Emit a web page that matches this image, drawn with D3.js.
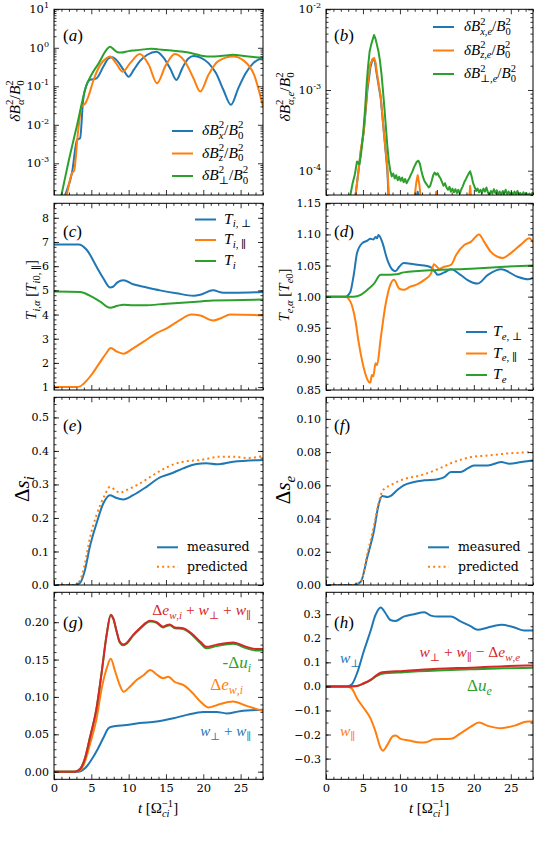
<!DOCTYPE html>
<html><head><meta charset="utf-8">
<script src="https://cdn.jsdelivr.net/npm/d3@7"></script>
<style>body{margin:0;background:#fff}svg{display:block}</style>
</head><body><svg id="c" width="540" height="848"></svg>
<script>
// ---------------- DATA ----------------
const tDomain = [0, 28];
const xMajor = [0, 5, 10, 15, 20, 25];
const xLabels = ["0", "5", "10", "15", "20", "25"];

// (a) ion-scale magnetic fluctuations
const aBx = [[0,2e-5],[1.5,1.5e-4],[2.4,5.5e-4],[3.1,4.1e-3],[3.5,4.5e-3],[3.9,0.044],[4.3,0.10],[4.8,0.146],[5.7,0.161],[6.6,0.32],[7.3,0.53],[7.8,0.57],[8.5,0.45],[9.3,0.27],[10.0,0.178],[10.7,0.27],[11.5,0.45],[12.5,0.66],[13.7,0.79],[14.7,0.55],[15.6,0.28],[16.4,0.146],[17.2,0.30],[18.0,0.53],[18.7,0.61],[19.7,0.55],[20.7,0.40],[21.7,0.22],[22.7,0.08],[23.7,0.033],[24.7,0.09],[25.7,0.22],[26.7,0.40],[28,0.55]];
const aBz = [[0,1e-5],[1.7,1.5e-4],[2.4,5.5e-4],[2.7,6.5e-4],[3.2,6e-3],[3.7,0.030],[4.2,0.036],[4.6,0.054],[5.3,0.146],[6.2,0.36],[7.0,0.53],[7.5,0.59],[8.3,0.40],[9.2,0.24],[10.2,0.40],[11.5,0.69],[12.7,0.36],[13.8,0.12],[15.0,0.36],[16.2,0.69],[17.5,0.45],[18.7,0.16],[19.6,0.073],[20.7,0.20],[22.0,0.45],[24.0,0.59],[25.5,0.45],[26.8,0.20],[28,0.03]];
const aBperp = [[0,2e-5],[1.0,1.5e-4],[1.9,1e-3],[3.1,1e-2],[4.3,0.1],[5.0,0.197],[6.0,0.40],[7.0,0.87],[7.5,1.07],[8.0,0.91],[8.5,0.77],[9.0,0.75],[10,0.82],[11,0.86],[12,0.91],[13,0.95],[14,0.91],[15,0.88],[16,0.84],[17,0.80],[18,0.75],[19,0.68],[20,0.61],[21,0.59],[22,0.60],[23,0.63],[24,0.66],[25,0.63],[26,0.59],[27,0.57],[28,0.56]];

// (b) electron-scale magnetic fluctuations
const bBx = [[0,1e-5],[3.8,3e-5],[4.0,5e-5],[4.4,1.0e-4],[4.7,1.7e-4],[5.1,3.0e-4],[5.4,6e-4],[5.6,1.0e-3],[6.0,1.9e-3],[6.3,2.4e-3],[6.6,2.3e-3],[6.9,1.5e-3],[7.4,8e-4],[7.8,3.2e-4],[8.3,1.0e-4],[8.5,4e-5],[8.8,2e-5],[11.8,2e-5],[12.2,4.5e-5],[12.4,5.5e-5],[12.6,4.5e-5],[13.0,2e-5],[28,2e-5]];
const bBz = [[0,1e-5],[3.8,3e-5],[4.0,5e-5],[4.4,1.0e-4],[4.7,1.8e-4],[5.1,3.0e-4],[5.6,1.1e-3],[6.0,2.1e-3],[6.3,2.4e-3],[6.5,2.5e-3],[6.7,2.2e-3],[6.9,1.6e-3],[7.4,8.3e-4],[7.8,3.2e-4],[8.3,1.1e-4],[8.5,5e-5],[8.7,3e-5],[11.6,2e-5],[11.9,4e-5],[12.2,7e-5],[12.4,8.8e-5],[12.6,7e-5],[12.9,4e-5],[13.2,2e-5],[14.6,3e-5],[14.9,5.5e-5],[15.2,3e-5],[19.2,3e-5],[19.5,6.5e-5],[19.8,3e-5],[28,2e-5]];
const bBperp = [[0,2e-5],[3.0,3e-5],[3.3,5e-5],[3.6,7e-5],[3.9,9e-5],[4.2,1.3e-4],[4.5,1.2e-4],[4.7,1.5e-4],[4.9,2.2e-4],[5.1,3.5e-4],[5.3,6e-4],[5.5,1.2e-3],[5.7,2.0e-3],[5.9,3.0e-3],[6.1,3.6e-3],[6.3,4.2e-3],[6.5,4.8e-3],[6.7,4.3e-3],[6.9,3.6e-3],[7.1,3.0e-3],[7.3,2.3e-3],[7.5,1.6e-3],[7.7,1.0e-3],[7.9,6e-4],[8.1,3.5e-4],[8.3,2.0e-4],[8.5,1.3e-4],[8.7,1.0e-4],[8.9,8.5e-5],[9.1,9.2e-5],[9.3,8.0e-5],[9.5,8.8e-5],[9.7,7.6e-5],[9.9,8.4e-5],[10.1,7.5e-5],[10.3,8.2e-5],[10.5,7.2e-5],[10.7,7.9e-5],[10.9,7.0e-5],[11.1,7.6e-5],[11.3,8.2e-5],[11.5,9.0e-5],[11.7,9.8e-5],[11.9,1.1e-4],[12.1,1.2e-4],[12.3,1.3e-4],[12.5,1.33e-4],[12.7,1.22e-4],[12.9,1.0e-4],[13.1,8.5e-5],[13.3,7.5e-5],[13.5,7.0e-5],[13.7,6.6e-5],[13.9,6.2e-5],[14.1,6.5e-5],[14.3,7.5e-5],[14.5,8.8e-5],[14.7,9.5e-5],[14.9,8.9e-5],[15.1,9.3e-5],[15.3,8.5e-5],[15.5,8.0e-5],[15.7,7.2e-5],[15.9,6.5e-5],[16.1,7.0e-5],[16.3,6.2e-5],[16.5,5.8e-5],[16.7,6.3e-5],[16.9,5.5e-5],[17.1,6.0e-5],[17.3,5.4e-5],[17.5,5.9e-5],[17.7,5.3e-5],[17.9,5.8e-5],[18.1,5.2e-5],[18.3,5.9e-5],[18.5,6.4e-5],[18.7,7.2e-5],[18.9,7.8e-5],[19.1,8.5e-5],[19.3,9.2e-5],[19.5,9.8e-5],[19.7,8.5e-5],[19.9,7.0e-5],[20.1,6.3e-5],[20.3,5.6e-5],[20.5,6.0e-5],[20.7,5.4e-5],[20.9,5.8e-5],[21.1,5.3e-5],[21.3,6.0e-5],[21.5,5.5e-5],[21.7,6.2e-5],[21.9,5.4e-5],[22.1,5.0e-5],[22.3,5.6e-5],[22.5,5.2e-5],[22.7,5.9e-5],[22.9,5.3e-5],[23.1,5.7e-5],[23.3,5.1e-5],[23.5,5.5e-5],[23.7,5.0e-5],[23.9,5.6e-5],[24.1,5.2e-5],[24.3,5.8e-5],[24.5,5.1e-5],[24.7,5.5e-5],[24.9,5.0e-5],[25.1,5.4e-5],[25.3,5.0e-5],[25.5,5.5e-5],[25.7,5.1e-5],[25.9,5.6e-5],[26.1,5.0e-5],[26.3,5.3e-5],[26.5,4.9e-5],[26.7,5.4e-5],[26.9,5.0e-5],[27.1,5.3e-5],[27.3,4.9e-5],[27.5,5.2e-5],[27.7,5.0e-5],[27.9,5.3e-5],[28.1,5.0e-5]];

// (c) ion temperatures
const cPerp = [[0,6.9],[3.3,6.9],[4.4,6.67],[5.7,5.98],[6.6,5.5],[7.5,5.12],[7.9,5.15],[8.5,5.33],[9.3,5.42],[10.6,5.25],[12,5.15],[14.2,5.0],[16.4,4.88],[18.7,4.78],[19.6,4.82],[21.3,5.0],[22.7,4.9],[24,4.9],[28,4.93]];
const cPar = [[0,1.0],[3.0,1.0],[3.5,1.03],[4.0,1.15],[5.0,1.5],[6.0,1.95],[7.0,2.4],[7.6,2.62],[8.4,2.47],[9.3,2.38],[10.6,2.6],[12,2.88],[13.75,3.23],[15.1,3.43],[16.9,3.78],[18.4,4.0],[19.6,3.96],[21.3,3.75],[22.5,3.87],[23.6,4.0],[28,3.97]];
const cT = [[0,4.95],[3.5,4.93],[4.8,4.78],[6.2,4.53],[7.5,4.28],[8.5,4.36],[9.3,4.41],[10.6,4.38],[12,4.38],[15.1,4.45],[19.6,4.54],[21.3,4.58],[28,4.62]];

// (d) electron temperatures
const dPerp = [[0,1.0],[2.6,1.0],[3.3,1.008],[3.75,1.035],[4.2,1.07],[4.9,1.086],[5.6,1.09],[6.0,1.093],[6.4,1.092],[6.7,1.096],[6.9,1.094],[7.1,1.099],[7.6,1.088],[8.3,1.059],[9.0,1.043],[9.4,1.041],[9.9,1.048],[10.5,1.054],[11.9,1.052],[13.3,1.05],[14.2,1.047],[14.8,1.039],[15.1,1.035],[16.0,1.039],[16.9,1.044],[18.2,1.035],[19.1,1.027],[20.5,1.021],[21.9,1.035],[23.7,1.044],[25.9,1.032],[27.3,1.028],[28,1.03]];
const dPar = [[0,1.0],[2.6,1.0],[3.3,0.992],[4.0,0.96],[4.4,0.928],[4.9,0.896],[5.3,0.877],[5.8,0.863],[6.0,0.862],[6.2,0.874],[6.4,0.872],[6.7,0.893],[6.9,0.89],[7.4,0.933],[8.05,0.987],[8.7,1.019],[9.2,1.027],[9.9,1.013],[10.5,1.011],[11.4,1.016],[12.4,1.02],[13.3,1.027],[14.2,1.037],[14.6,1.052],[15.3,1.045],[16.0,1.048],[16.9,1.051],[17.6,1.067],[18.7,1.083],[19.6,1.088],[20.7,1.1],[21.4,1.088],[22.3,1.072],[23.9,1.062],[25,1.07],[26.4,1.084],[27.5,1.094],[28,1.088]];
const dT = [[0,1.0],[3.75,1.0],[4.7,1.003],[5.6,1.011],[6.5,1.021],[7.4,1.035],[7.8,1.035],[9.6,1.036],[10.5,1.039],[15.1,1.043],[19.6,1.045],[24.1,1.048],[28,1.05]];

// (e) ion entropy
const eMeas = [[0,0],[2.8,0],[3.5,0.007],[4.15,0.045],[4.8,0.114],[5.7,0.184],[6.6,0.243],[7.5,0.268],[8.2,0.261],[9.3,0.255],[10.6,0.268],[12.4,0.293],[14.2,0.321],[15.5,0.331],[17.3,0.348],[19.1,0.361],[20.4,0.363],[21.8,0.36],[24,0.368],[28,0.373]];
const ePred = [[0,0],[2.8,0],[3.5,0.015],[4.15,0.065],[4.8,0.139],[5.7,0.209],[6.8,0.268],[7.5,0.293],[8.2,0.283],[8.8,0.275],[9.7,0.283],[11.5,0.303],[13.3,0.328],[15.1,0.351],[17.3,0.368],[19.6,0.373],[22.3,0.383],[24,0.383],[25.8,0.379],[28,0.385]];

// (f) electron entropy
const fMeas = [[0,0],[3.75,0],[4.7,0.002],[5.6,0.017],[6.5,0.033],[7.1,0.048],[7.6,0.0536],[8.3,0.053],[8.7,0.0535],[9.6,0.057],[10.5,0.06],[11.9,0.062],[13.3,0.063],[15.1,0.0637],[16,0.065],[16.9,0.068],[18.2,0.068],[19.1,0.07],[20,0.072],[21.9,0.072],[23.7,0.074],[24.8,0.073],[26.4,0.074],[28,0.075]];
const fPred = [[0,0],[3.75,0],[4.7,0.002],[5.6,0.019],[6.5,0.036],[7.1,0.049],[7.7,0.057],[8.7,0.06],[10.5,0.0637],[12.8,0.066],[15.1,0.0697],[17.3,0.074],[19.6,0.077],[22,0.078],[24.1,0.079],[28,0.08]];

// (g) ion energy budget
const gRed = [[0,0],[2.8,0],[3.5,0.0036],[4.15,0.018],[4.8,0.045],[5.7,0.085],[6.4,0.134],[7.05,0.183],[7.6,0.21],[7.95,0.205],[8.4,0.1875],[8.8,0.174],[9.3,0.17],[9.7,0.172],[10.6,0.183],[11.5,0.192],[12.9,0.202],[13.75,0.2],[14.6,0.194],[15.1,0.196],[15.5,0.197],[16.2,0.193],[17.3,0.192],[18.4,0.185],[19.6,0.174],[20.4,0.167],[21.8,0.17],[24,0.173],[25.8,0.167],[27.1,0.164],[28,0.164]];
const gGreen = [[0,0],[2.8,0],[3.5,0.0036],[4.15,0.018],[4.8,0.045],[5.7,0.085],[6.4,0.134],[7.05,0.183],[7.6,0.209],[7.95,0.204],[8.4,0.187],[8.8,0.173],[9.3,0.169],[9.7,0.171],[10.6,0.182],[11.5,0.191],[12.9,0.201],[13.75,0.199],[14.6,0.193],[15.1,0.195],[15.5,0.196],[16.2,0.192],[17.3,0.191],[18.4,0.184],[19.6,0.172],[20.4,0.165],[21.8,0.168],[24,0.171],[25.8,0.165],[27.1,0.162],[28,0.162]];
const gOrange = [[0,0],[2.8,0],[3.5,0.002],[4.15,0.0134],[4.8,0.036],[5.7,0.071],[6.4,0.112],[7.05,0.138],[7.6,0.151],[8.2,0.134],[8.8,0.116],[9.3,0.107],[10.2,0.114],[11.1,0.123],[12,0.129],[12.9,0.136],[13.75,0.13],[14.6,0.125],[15.3,0.127],[16.2,0.12],[17.3,0.116],[18.4,0.107],[19.6,0.094],[20.7,0.086],[21.8,0.089],[24,0.094],[25.8,0.088],[28,0.081]];
const gBlue = [[0,0],[3.25,0],[4.15,0.0045],[5.0,0.0156],[5.9,0.031],[6.6,0.045],[7.3,0.058],[7.7,0.06],[9.7,0.0625],[11.5,0.065],[13.75,0.067],[16,0.0714],[17.8,0.076],[20,0.08],[21.8,0.08],[23.1,0.078],[24.9,0.081],[28,0.083]];

// (h) electron energy budget
const hPerp = [[0,0],[2.85,0],[3.5,0.009],[4.2,0.055],[5.1,0.145],[6.0,0.228],[6.7,0.297],[7.4,0.328],[8.05,0.304],[8.7,0.276],[9.4,0.272],[10.5,0.29],[11.9,0.3],[13.3,0.308],[14.2,0.294],[15.1,0.29],[16.9,0.29],[18.2,0.27],[19.6,0.249],[20.5,0.235],[21.9,0.245],[23.7,0.256],[25.5,0.245],[26.8,0.232],[28,0.232]];
const hPar = [[0,0],[2.85,0],[3.5,-0.01],[4.2,-0.05],[5.1,-0.09],[6.0,-0.132],[6.7,-0.188],[7.4,-0.257],[7.7,-0.267],[8.3,-0.243],[9.0,-0.208],[9.4,-0.204],[10.1,-0.218],[11.4,-0.226],[12.8,-0.233],[13.5,-0.232],[14.6,-0.22],[16.9,-0.218],[18.2,-0.195],[19.6,-0.167],[20.7,-0.15],[21.9,-0.164],[23.7,-0.174],[25.5,-0.163],[27.3,-0.146],[28,-0.146]];
const hRed = [[0,0],[3.3,0],[4.2,0.002],[5.1,0.013],[6.0,0.027],[6.9,0.048],[7.6,0.059],[10.5,0.064],[15.1,0.073],[19.6,0.078],[24.1,0.084],[28,0.087]];
const hGreen = [[0,0],[3.3,0],[4.2,0.002],[5.1,0.012],[6.0,0.025],[6.9,0.044],[7.6,0.053],[10.5,0.059],[15.1,0.066],[19.6,0.071],[24.1,0.075],[28,0.077]];

// y ticks / labels
const aTicks = [1e-3, 1e-2, 1e-1, 1, 10], aTickLabels = ["10^{-3}","10^{-2}","10^{-1}","10^{0}","10^{1}"];
const bTicks = [1e-4, 1e-3, 1e-2], bTickLabels = ["10^{-4}","10^{-3}","10^{-2}"];
const cTicks = [1,2,3,4,5,6,7,8], cTickLabels = ["1","2","3","4","5","6","7","8"];
const dTicks = [0.85,0.90,0.95,1.00,1.05,1.10,1.15], dTickLabels = ["0.85","0.90","0.95","1.00","1.05","1.10","1.15"];
const eTicks = [0,0.1,0.2,0.3,0.4,0.5], eTickLabels = ["0.0","0.1","0.2","0.3","0.4","0.5"];
const fTicks = [0,0.02,0.04,0.06,0.08,0.10], fTickLabels = ["0.00","0.02","0.04","0.06","0.08","0.10"];
const gTicks = [0,0.05,0.10,0.15,0.20], gTickLabels = ["0.00","0.05","0.10","0.15","0.20"];
const hTicks = [-0.3,-0.2,-0.1,0,0.1,0.2,0.3], hTickLabels = ["\u22120.3","\u22120.2","\u22120.1","0.0","0.1","0.2","0.3"];

// ---------------- DRAWING ----------------
const COL = {blue:"#1f77b4", orange:"#ff7f0e", green:"#2ca02c", red:"#d62728"};
const svg = d3.select("#c");
const cols = [[54, 263], [326, 533]];
const rows = [[9.3, 195], [203.3, 390], [397.3, 585], [592.3, 779.3]];
const TICKFONT = "'DejaVu Serif', serif";
const MATHFONT = "'Liberation Serif', 'DejaVu Serif', serif";

function parseMath(s) {
  const toks = []; let i = 0;
  while (i < s.length) {
    const c = s[i];
    if (c === '_' || c === '^') {
      let txt; i++;
      if (s[i] === '{') { const j = s.indexOf('}', i); txt = s.slice(i + 1, j); i = j + 1; }
      else { txt = s[i]; i++; }
      const lvl = c === '_' ? -1 : 1;
      const prev = toks[toks.length - 1];
      toks.push({text: txt, level: lvl, stack: !!(prev && prev.level === -lvl)});
    } else {
      const prev = toks[toks.length - 1];
      if (prev && prev.level === 0) prev.text += c; else toks.push({text: c, level: 0});
      i++;
    }
  }
  return toks;
}

function mathText(parent, x, y, s, o = {}) {
  const fs = o.size || 14;
  const t = parent.append("text").attr("x", x).attr("y", y)
    .attr("font-size", fs).attr("fill", o.color || "#000")
    .attr("text-anchor", o.anchor || "start")
    .attr("font-family", o.family || MATHFONT);
  if (o.rotate) t.attr("transform", `rotate(-90 ${x} ${y})`);
  let shift = 0, prevNodes = [], pending = 0;
  parseMath(s).forEach(tok => {
    const sz = tok.level ? fs * 0.7 : fs;
    const target = tok.level === -1 ? fs * 0.25 : tok.level === 1 ? -fs * 0.42 : 0;
    const runs = [];
    for (const ch of tok.text) {
      const it = !o.upright && /[A-Za-z\u03b1\u03b4]/.test(ch);
      const last = runs[runs.length - 1];
      if (last && last.it === it) last.s += ch; else runs.push({s: ch, it});
    }
    let back = 0;
    if (tok.stack) back = prevNodes.reduce((a, n) => a + n.getComputedTextLength(), 0);
    const nodes = [];
    runs.forEach((r, k) => {
      const ts = t.append("tspan").attr("font-size", sz).attr("font-style", r.it ? "italic" : "normal").text(r.s);
      if (k === 0) {
        const dy = target - shift;
        if (dy) ts.attr("dy", dy);
        shift = target;
        const dx = pending - back;
        if (dx) ts.attr("dx", dx);
        pending = 0;
      }
      nodes.push(ts.node());
    });
    if (tok.stack) {
      const w = nodes.reduce((a, n) => a + n.getComputedTextLength(), 0);
      if (back > w) pending = back - w;
    }
    prevNodes = nodes;
  });
  return t;
}

function panel(col, row, yType, yDom) {
  const [x0, x1] = cols[col], [y0, y1] = rows[row];
  const x = d3.scaleLinear().domain(tDomain).range([x0, x1]);
  const y = (yType === "log" ? d3.scaleLog() : d3.scaleLinear()).domain(yDom).range([y1, y0]);
  const id = `clip${col}${row}`;
  svg.append("clipPath").attr("id", id).append("rect")
    .attr("x", x0).attr("y", y0).attr("width", x1 - x0).attr("height", y1 - y0);
  const g = svg.append("g").attr("clip-path", `url(#${id})`);
  return {x, y, g, x0, x1, y0, y1, col, row, yType};
}

function styleAxis(sel) {
  sel.select(".domain").remove();
  sel.selectAll("line").attr("stroke", "#000").attr("stroke-width", 0.8);
  sel.attr("font-family", TICKFONT).attr("font-size", 11);
  sel.selectAll("text").attr("fill", "#000");
}

function axes(p, yTicks, yLabels, yMinor, showX) {
  const {x, y, x0, x1, y0, y1} = p;
  const ax = svg.append("g");
  const xMinor = d3.range(1, 29).filter(v => v % 5 !== 0);
  ax.append("g").attr("transform", `translate(0,${y1})`)
    .call(d3.axisBottom(x).tickValues(xMajor).tickSize(-5).tickPadding(5)
      .tickFormat(showX ? (d, i) => xLabels[i] : ""))
    .call(styleAxis).call(g => g.selectAll("text").attr("font-size", 11.5));
  ax.append("g").attr("transform", `translate(0,${y1})`)
    .call(d3.axisBottom(x).tickValues(xMinor).tickSize(-2.5).tickFormat("")).call(styleAxis);
  ax.append("g").attr("transform", `translate(0,${y0})`)
    .call(d3.axisTop(x).tickValues(xMajor).tickSize(-5).tickFormat("")).call(styleAxis);
  ax.append("g").attr("transform", `translate(0,${y0})`)
    .call(d3.axisTop(x).tickValues(xMinor).tickSize(-2.5).tickFormat("")).call(styleAxis);
  const isLog = p.yType === "log";
  ax.append("g").attr("transform", `translate(${x0},0)`)
    .call(d3.axisLeft(y).tickValues(yTicks).tickSize(-5).tickPadding(5)
      .tickFormat(isLog ? "" : (d, i) => yLabels[i]))
    .call(styleAxis);
  ax.append("g").attr("transform", `translate(${x0},0)`)
    .call(d3.axisLeft(y).tickValues(yMinor).tickSize(-2.5).tickFormat("")).call(styleAxis);
  ax.append("g").attr("transform", `translate(${x1},0)`)
    .call(d3.axisRight(y).tickValues(yTicks).tickSize(-5).tickFormat("")).call(styleAxis);
  ax.append("g").attr("transform", `translate(${x1},0)`)
    .call(d3.axisRight(y).tickValues(yMinor).tickSize(-2.5).tickFormat("")).call(styleAxis);
  if (isLog) {
    yTicks.forEach((v, i) => {
      mathText(ax, x0 - 5, y(v) + 4, yLabels[i], {size: 11.5, anchor: "end", family: TICKFONT, upright: true});
    });
  }
  ax.append("rect").attr("x", x0).attr("y", y0).attr("width", x1 - x0).attr("height", y1 - y0)
    .attr("fill", "none").attr("stroke", "#000").attr("stroke-width", 1);
}

function series(p, data, color, opts = {}) {
  const line = d3.line().x(d => p.x(d[0])).y(d => p.y(d[1]))
    .curve(opts.linear ? d3.curveLinear : d3.curveMonotoneX);
  p.g.append("path").datum(data).attr("d", line).attr("fill", "none")
    .attr("stroke", color).attr("stroke-width", opts.width || 2)
    .attr("stroke-linejoin", "round")
    .attr("stroke-dasharray", opts.dash || null)
    .attr("stroke-linecap", opts.dash ? "butt" : "round");
}

function legend(lx, tx, ys, items, size) {
  const lg = svg.append("g");
  items.forEach((it, i) => {
    lg.append("line").attr("x1", lx).attr("x2", lx + 21).attr("y1", ys[i]).attr("y2", ys[i])
      .attr("stroke", it.color).attr("stroke-width", 2).attr("stroke-dasharray", it.dash || null);
    if (it.plain) lg.append("text").attr("x", tx).attr("y", ys[i] + 4).attr("font-family", TICKFONT)
      .attr("font-size", size).text(it.label);
    else mathText(lg, tx, ys[i] + 4, it.label, {size});
  });
}

function minorLin(lo, hi, step) {
  const out = [];
  for (let v = Math.ceil(lo / step - 1e-9) * step; v <= hi + 1e-9; v += step) out.push(+v.toFixed(6));
  return out;
}
function minorLog(lo, hi) {
  const out = [];
  for (let e = -6; e <= 2; e++) for (let k = 2; k <= 9; k++) { const v = k * Math.pow(10, e); if (v >= lo && v <= hi) out.push(v); }
  return out;
}

// ---- panel a ----
const pa = panel(0, 0, "log", [1.5e-4, 10]);
series(pa, aBx, COL.blue); series(pa, aBz, COL.orange); series(pa, aBperp, COL.green);
axes(pa, aTicks, aTickLabels, minorLog(1.5e-4, 10), false);
legend(172, 202, [131, 153.5, 176], [
  {color: COL.blue, label: "\u03b4B_{x}^{2}/B_{0}^{2}"},
  {color: COL.orange, label: "\u03b4B_{z}^{2}/B_{0}^{2}"},
  {color: COL.green, label: "\u03b4B_{\u22a5}^{2}/B_{0}^{2}"}], 15.5);

// ---- panel b ----
const pb = panel(1, 0, "log", [5e-5, 1e-2]);
series(pb, bBx, COL.blue, {linear: true}); series(pb, bBz, COL.orange, {linear: true}); series(pb, bBperp, COL.green, {linear: true});
axes(pb, bTicks, bTickLabels, minorLog(5e-5, 1e-2), false);
legend(433, 464, [27, 50.5, 74], [
  {color: COL.blue, label: "\u03b4B_{x,e}^{2}/B_{0}^{2}"},
  {color: COL.orange, label: "\u03b4B_{z,e}^{2}/B_{0}^{2}"},
  {color: COL.green, label: "\u03b4B_{\u22a5,e}^{2}/B_{0}^{2}"}], 15);

// ---- panel c ----
const pc = panel(0, 1, "lin", [0.88, 8.6]);
series(pc, cPerp, COL.blue); series(pc, cPar, COL.orange); series(pc, cT, COL.green);
axes(pc, cTicks, cTickLabels, minorLin(0.88, 8.6, 0.2), false);
legend(195, 224, [219.5, 240, 261], [
  {color: COL.blue, label: "T_{i, \u22a5}"},
  {color: COL.orange, label: "T_{i, \u2225}"},
  {color: COL.green, label: "T_{i}"}], 15.5);

// ---- panel d ----
const pd = panel(1, 1, "lin", [0.85, 1.15]);
series(pd, dPerp, COL.blue); series(pd, dPar, COL.orange); series(pd, dT, COL.green);
axes(pd, dTicks, dTickLabels, minorLin(0.85, 1.15, 0.01), false);
legend(466, 493, [332, 353.5, 375], [
  {color: COL.blue, label: "T_{e, \u22a5}"},
  {color: COL.orange, label: "T_{e, \u2225}"},
  {color: COL.green, label: "T_{e}"}], 15.5);

// ---- panel e ----
const pe = panel(0, 2, "lin", [0, 0.56]);
series(pe, eMeas, COL.blue); series(pe, ePred, COL.orange, {dash: "2,3.2"});
axes(pe, eTicks, eTickLabels, minorLin(0, 0.56, 0.02), false);
legend(157, 187, [547.3, 566.7], [
  {color: COL.blue, label: "measured", plain: true},
  {color: COL.orange, label: "predicted", plain: true, dash: "2,3.2"}], 12.5);

// ---- panel f ----
const pf = panel(1, 2, "lin", [0, 0.113]);
series(pf, fMeas, COL.blue); series(pf, fPred, COL.orange, {dash: "2,3.2"});
axes(pf, fTicks, fTickLabels, minorLin(0, 0.113, 0.005), false);
legend(428, 458, [547.3, 566.7], [
  {color: COL.blue, label: "measured", plain: true},
  {color: COL.orange, label: "predicted", plain: true, dash: "2,3.2"}], 12.5);

// ---- panel g ----
const pg = panel(0, 3, "lin", [-0.0102, 0.240]);
series(pg, gBlue, COL.blue); series(pg, gOrange, COL.orange); series(pg, gGreen, COL.green); series(pg, gRed, COL.red);
axes(pg, gTicks, gTickLabels, minorLin(-0.0102, 0.24, 0.01), true);

// ---- panel h ----
const ph = panel(1, 3, "lin", [-0.386, 0.391]);
series(ph, hPerp, COL.blue); series(ph, hPar, COL.orange); series(ph, hGreen, COL.green); series(ph, hRed, COL.red);
axes(ph, hTicks, hTickLabels, minorLin(-0.386, 0.391, 0.05), true);

// ---- annotations ----
const ann = svg.append("g");
mathText(ann, 251, 615, "\u0394e_{w,i} + w_{\u22a5} + w_{\u2225}", {size: 15.5, color: COL.red, anchor: "end"});
mathText(ann, 251, 668, "-\u0394u_{i}", {size: 17, color: COL.green, anchor: "end"});
mathText(ann, 243, 690, "\u0394e_{w,i}", {size: 17, color: COL.orange, anchor: "end"});
mathText(ann, 251, 736, "w_{\u22a5} + w_{\u2225}", {size: 15, color: COL.blue, anchor: "end"});
mathText(ann, 340, 663, "w_{\u22a5}", {size: 15.5, color: COL.blue});
mathText(ann, 520, 657, "w_{\u22a5} + w_{\u2225} \u2212 \u0394e_{w,e}", {size: 15.5, color: COL.red, anchor: "end"});
mathText(ann, 467, 691, "\u0394u_{e}", {size: 17, color: COL.green});
mathText(ann, 340, 736, "w_{\u2225}", {size: 15.5, color: COL.orange});

// panel letters
[["(a)", 63, 41], ["(b)", 334, 41], ["(c)", 63, 237], ["(d)", 334, 237],
 ["(e)", 63, 431], ["(f)", 334, 431], ["(g)", 63, 628], ["(h)", 334, 628]]
  .forEach(([s, x, y]) => mathText(ann, x, y, s, {size: 17}));

// axis labels
mathText(ann, 20, 101, "\u03b4B_{\u03b1}^{2}/B_{0}^{2}", {size: 15.5, rotate: true, anchor: "middle"});
mathText(ann, 290, 97, "\u03b4B_{\u03b1,e}^{2}/B_{0}^{2}", {size: 15.5, rotate: true, anchor: "middle"});
mathText(ann, 36, 290, "T_{i,\u03b1} [T_{i0, \u2225}]", {size: 15, rotate: true, anchor: "middle"});
mathText(ann, 289, 295, "T_{e,\u03b1} [T_{e0}]", {size: 15, rotate: true, anchor: "middle"});
mathText(ann, 29, 489, "\u0394s_{i}", {size: 21, rotate: true, anchor: "middle"});
mathText(ann, 290, 490, "\u0394s_{e}", {size: 21, rotate: true, anchor: "middle"});
mathText(ann, 158, 813, "t [\u03a9_{ci}^{\u22121}]", {size: 15, anchor: "middle"});
mathText(ann, 429, 813, "t [\u03a9_{ci}^{\u22121}]", {size: 15, anchor: "middle"});
</script></body></html>
